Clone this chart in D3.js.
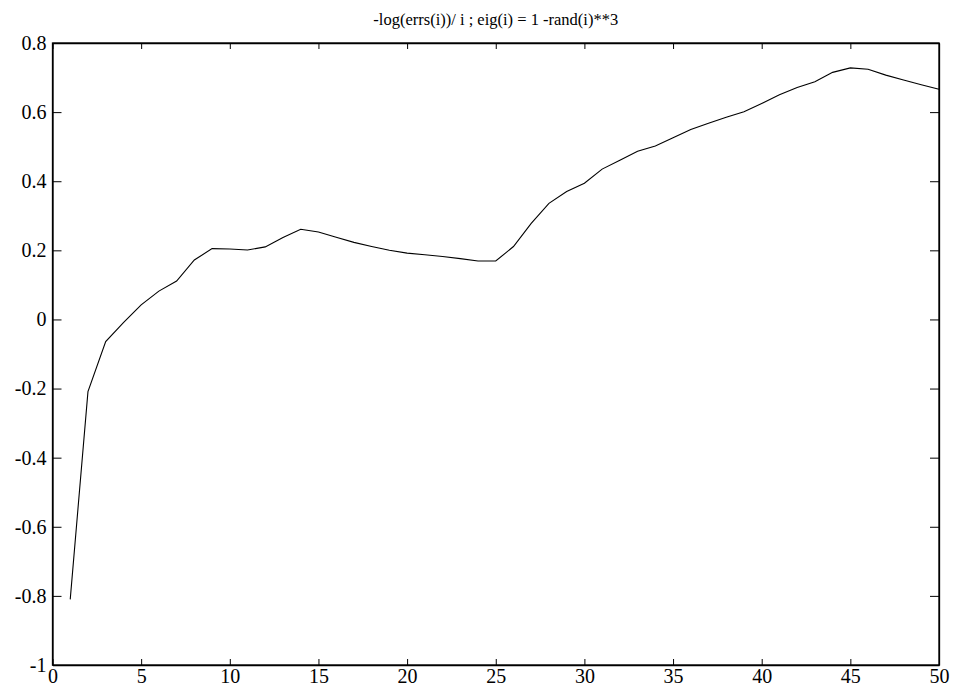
<!DOCTYPE html>
<html>
<head>
<meta charset="utf-8">
<script src="https://cdn.jsdelivr.net/npm/d3@7"></script>
<style>
  body { margin: 0; background: #fff; }
</style>
</head>
<body>
<div id="chart"></div>
<script>
// -log(errs(i))/i values
var iters = d3.range(1, 51);
var rate = [
  -0.810, -0.209, -0.064, -0.009, 0.042, 0.082, 0.111, 0.172, 0.205, 0.204,
  0.201, 0.210, 0.237, 0.261, 0.253, 0.238, 0.223, 0.211, 0.200, 0.192,
  0.187, 0.182, 0.176, 0.169, 0.169, 0.211, 0.278, 0.336, 0.370, 0.394,
  0.435, 0.461, 0.487, 0.502, 0.526, 0.550, 0.568, 0.585, 0.601, 0.625,
  0.650, 0.671, 0.688, 0.715, 0.728, 0.724, 0.707, 0.693, 0.679, 0.666
];
var xTicks = [0, 5, 10, 15, 20, 25, 30, 35, 40, 45, 50];
var yTicks = [-1, -0.8, -0.6, -0.4, -0.2, 0, 0.2, 0.4, 0.6, 0.8];
var title = "-log(errs(i))/ i ; eig(i) = 1 -rand(i)**3";

var width = 956, height = 698;
var plotL = 52.5, plotR = 939, plotT = 43, plotB = 665;
var serif = '"Liberation Serif", "Times New Roman", serif';

var svg = d3.select('#chart').append('svg')
  .attr('width', width)
  .attr('height', height);

var x = d3.scaleLinear().domain([0, 50]).range([plotL, plotR]);
var y = d3.scaleLinear().domain([-1, 0.8]).range([plotB, plotT]);

function yFmt(d) { return d === 0 ? '0' : String(+d.toFixed(1)); }

function styleAxis(g) {
  g.attr('font-family', serif).attr('font-size', 20);
  g.select('.domain').attr('stroke', '#000').attr('stroke-width', 1.3);
  g.selectAll('.tick line').attr('stroke', '#000');
  g.selectAll('.tick text').attr('fill', '#000');
}

// ticks point inward on all four sides
svg.append('g')
  .attr('transform', 'translate(0,' + plotB + ')')
  .call(d3.axisBottom(x).tickValues(xTicks).tickSizeInner(-6).tickSizeOuter(0).tickPadding(4))
  .call(styleAxis);
svg.append('g')
  .attr('transform', 'translate(0,' + plotT + ')')
  .call(d3.axisTop(x).tickValues(xTicks).tickSizeInner(-6).tickSizeOuter(0).tickFormat(''))
  .call(styleAxis);
svg.append('g')
  .attr('transform', 'translate(' + plotL + ',0)')
  .call(d3.axisLeft(y).tickValues(yTicks).tickSizeInner(-9).tickSizeOuter(0).tickPadding(6).tickFormat(yFmt))
  .call(styleAxis);
svg.append('g')
  .attr('transform', 'translate(' + plotR + ',0)')
  .call(d3.axisRight(y).tickValues(yTicks).tickSizeInner(-9).tickSizeOuter(0).tickFormat(''))
  .call(styleAxis);

svg.append('rect')
  .attr('x', plotL).attr('y', plotT)
  .attr('width', plotR - plotL).attr('height', plotB - plotT)
  .attr('fill', 'none').attr('stroke', '#000').attr('stroke-width', 1.3);

var line = d3.line()
  .x(function(d, i) { return x(iters[i]); })
  .y(function(d) { return y(d); });

svg.append('path')
  .datum(rate)
  .attr('d', line)
  .attr('fill', 'none')
  .attr('stroke', '#000')
  .attr('stroke-width', 1.1);

svg.append('text')
  .attr('x', (plotL + plotR) / 2)
  .attr('y', 25)
  .attr('text-anchor', 'middle')
  .attr('font-family', serif)
  .attr('font-size', 16.5)
  .attr('fill', '#000')
  .text(title);
</script>
</body>
</html>
